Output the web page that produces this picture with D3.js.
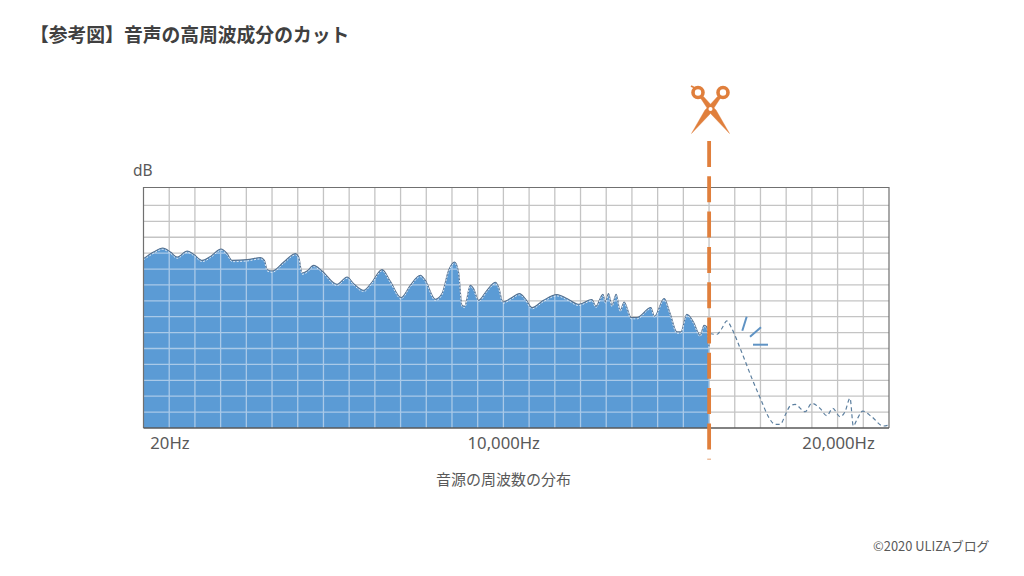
<!DOCTYPE html>
<html><head><meta charset="utf-8">
<script src="https://cdn.jsdelivr.net/npm/d3@7"></script>
<style>html,body{margin:0;padding:0;background:#fff}svg{display:block}
text{font-family:"Noto Sans CJK JP","Noto Sans",sans-serif;fill:#595959}</style></head>
<body><script>
const titleText="【参考図】音声の高周波成分のカット";
const xTitle="音源の周波数の分布", yTitle="dB", credit="©2020 ULIZAブログ";
const tickLabels=["20Hz","10,000Hz","20,000Hz"];
const tickBins=[26,360,695];
const audibleBins=[0,10,19.3,27,33.7,43.7,50.3,58.7,67,77.7,83.7,88.7,103.7,117,121,123.7,128.7,140.3,152,155.3,158.7,163.7,170.3,178.7,193.7,203.7,210.3,220.3,228.7,238.7,247,257.7,267,277,282,292,298.7,305.3,311.3,315.3,318.7,321.3,327,330.3,335.3,343.7,352.3,355.3,359.7,367,376.3,382,388.7,400.3,413.7,423.7,435.3,448.7,452.7,459.7,462.3,465.3,468.7,473,477,481,488,493.7,507.7,511.3,521,527,533.7,537.7,543.7,550.3,557,561,563.7,566];
const audibleLevels=[169.7,176.3,180.3,176.3,171.3,177.3,174,168,172,179.3,174.7,168,168.7,170.7,168,158.7,157.3,166.3,174.7,171.3,155.3,157.3,163,157.3,144,151.3,144.7,138,146.3,158.7,147,130.7,143,153,148,129,134.7,158,166.3,156.3,123,122,143,139.7,128,138,146,141.3,126.3,129.7,134.7,129.7,120.7,128,133.7,129.7,124,128.7,122,134,126.3,134.7,123,134,118,126.3,110.7,110.7,120.7,112,129.7,114.7,96.3,96.3,114,106.3,93,103,101.3,81.3];
const cutBins=[566.7,573.7,578.7,583.7,588.7,597,608.7,618.7,625.3,632,637,643,647,652,662,668.7,677,683.7,689.7,697,702,707,710.3,713.7,719.7,728.7,740.3,746];
const cutLevels=[94.7,93.7,99.7,107.3,99.7,80,50,26.3,11.3,3.7,3.7,14.7,22,23.7,16.3,24.7,19.7,12.3,19.7,11.3,16.3,29.7,2,8,17,11.3,2,3];
const cutoffBin=566;

const W=1024,H=576,L=143.5,R=889,T=187.5,B=428;
const svg=d3.select("body").append("svg").attr("width",W).attr("height",H);
const x=d3.scaleLinear().domain([0,746]).range([L,R]);
const y=d3.scaleLinear().domain([0,241]).range([B,T]);
const vGrid=d3.range(1,29).map(i=>i*746/29);
const hGrid=d3.range(1,15).map(i=>i*15.93);
const audible=audibleBins.map((b,i)=>[b,audibleLevels[i]]);
const cut=cutBins.map((b,i)=>[b,cutLevels[i]]);
const curve=d3.curveMonotoneX;
const areaGen=d3.area().x(d=>x(d[0])).y0(y(0)).y1(d=>y(d[1])).curve(curve);
const lineGen=d3.line().x(d=>x(d[0])).y(d=>y(d[1])).curve(curve);

svg.append("text").attr("x",30).attr("y",41.5).attr("font-size",18.8).attr("font-weight",700).style("fill","#404040").text(titleText);

function grid(g,color,w){
  g.selectAll(".v").data(vGrid).join("line").attr("class","v").attr("x1",d=>x(d)).attr("x2",d=>x(d)).attr("y1",T).attr("y2",B).attr("stroke",color).attr("stroke-width",w);
  g.selectAll(".h").data(hGrid).join("line").attr("class","h").attr("x1",L).attr("x2",R).attr("y1",d=>y(d)).attr("y2",d=>y(d)).attr("stroke",color).attr("stroke-width",w);
}
grid(svg.append("g"),"#c4c4c4",1.3);
svg.append("clipPath").attr("id","fillClip").append("path").attr("d",areaGen(audible));
svg.append("path").attr("d",areaGen(audible)).attr("fill","#5b9bd5");
grid(svg.append("g").attr("clip-path","url(#fillClip)"),"#a9c9e8",1.3);
svg.append("path").attr("d",lineGen(audible)).attr("fill","none").attr("stroke","#56718f").attr("stroke-width",1.1);
svg.append("path").attr("d",lineGen(audible)).attr("transform","translate(0,1.3)").attr("fill","none").attr("stroke","#dfe9f4").attr("stroke-width",1).attr("stroke-dasharray","2 1.5");
svg.append("path").attr("d",lineGen(cut)).attr("fill","none").attr("stroke","#5c7f9f").attr("stroke-width",1.2).attr("stroke-dasharray","4 3");

svg.append("path").attr("d",`M${L},${B}V${T}H${R}V${B}`).attr("fill","none").attr("stroke","#707070").attr("stroke-width",1.2);
svg.append("line").attr("x1",L).attr("x2",R).attr("y1",B).attr("y2",B).attr("stroke","#595959").attr("stroke-width",1.3);

const axis=d3.axisBottom(x).tickValues(tickBins).tickFormat((d,i)=>tickLabels[i]).tickSize(0).tickPadding(0);
const ag=svg.append("g").attr("transform",`translate(0,${B+9})`).call(axis);
ag.select(".domain").remove();
ag.selectAll("text").attr("font-size",16.7).style("font-family",'"Noto Sans","Noto Sans CJK JP",sans-serif').style("fill","#595959");

svg.append("text").attr("x",133).attr("y",175.5).attr("font-size",15.5).style("font-family",'"Noto Sans",sans-serif').text(yTitle);
svg.append("text").attr("x",503.5).attr("y",485).attr("text-anchor","middle").attr("font-size",15).text(xTitle);
svg.append("text").attr("x",873).attr("y",551).attr("font-size",12.9).text(credit);

const orange="#e07f3c";
svg.append("line").attr("x1",x(cutoffBin)).attr("x2",x(cutoffBin)).attr("y1",141).attr("y2",459.5).attr("stroke",orange).attr("stroke-width",3.8).attr("stroke-dasharray","26 9.3");

const burst=[[746.7,316.7,742.3,330.7],[761,327.3,750,336.7],[753,344.7,768,344.7]];
svg.append("g").selectAll("line").data(burst).join("line").attr("x1",d=>d[0]).attr("y1",d=>d[1]).attr("x2",d=>d[2]).attr("y2",d=>d[3]).attr("stroke","#5f93c4").attr("stroke-width",2);

const sc=svg.append("g").attr("fill",orange).attr("stroke",orange);
sc.append("circle").attr("cx",698).attr("cy",92.5).attr("r",5).attr("fill","#fff").attr("stroke-width",3.6);
sc.append("circle").attr("cx",723).attr("cy",92.5).attr("r",5).attr("fill","#fff").attr("stroke-width",3.6);
sc.append("path").attr("stroke-width",.4).attr("d","M700.5,98 L703.5,96.5 L713,107 L716,110 L729.5,133.5 L711,114 Z");
sc.append("path").attr("stroke-width",.4).attr("d","M720.5,98 L717.5,96.5 L708,107 L705,110 L691.5,133.5 L710,114 Z");
sc.append("path").attr("stroke-width",1.8).attr("d","M691,86 L695,88");
sc.append("circle").attr("cx",710.5).attr("cy",109).attr("r",2).attr("fill","#fff").attr("stroke","none");
</script></body></html>
